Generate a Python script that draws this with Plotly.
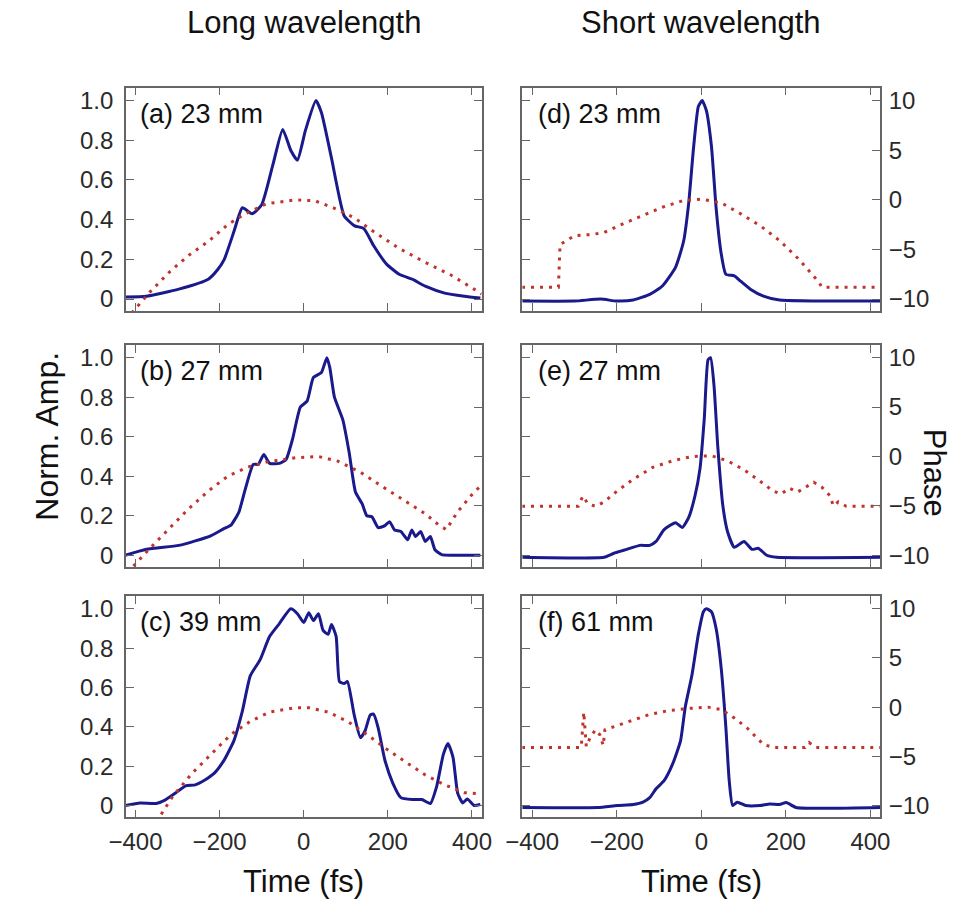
import plotly.graph_objects as go

# ---------------- data ----------------
# (a) Long wavelength, 23 mm
t_a = [-424, -374, -297, -227, -204, -189, -166, -146, -123, -100, -73, -50, -31, -15, 4, 29, 42, 66, 96, 120, 143, 166, 197, 227, 258, 289, 335, 382, 420]
amp_a = [0.01, 0.014, 0.05, 0.10, 0.15, 0.20, 0.34, 0.46, 0.43, 0.475, 0.68, 0.855, 0.75, 0.70, 0.85, 1.0, 0.94, 0.71, 0.42, 0.37, 0.355, 0.27, 0.176, 0.125, 0.10, 0.065, 0.03, 0.014, 0.005]
tp_a = [-409, -366, -320, -274, -227, -181, -143, -89, -19, 27, 73, 120, 166, 227, 289, 351, 405, 423]
ph_a = [-11.4, -9.3, -7.3, -5.6, -4.2, -2.5, -1.5, -0.4, 0.0, -0.1, -0.85, -1.8, -3.2, -4.9, -6.3, -7.6, -9.0, -9.5]

# (b) Long wavelength, 27 mm
t_b = [-424, -374, -297, -258, -220, -189, -173, -154, -139, -120, -108, -95, -81, -58, -42, -27, -8, 8, 23, 42, 55, 62, 73, 93, 108, 123, 139, 150, 162, 177, 193, 204, 216, 231, 247, 257, 266, 278, 289, 301, 312, 328, 351, 420]
amp_b = [0.0, 0.03, 0.05, 0.073, 0.10, 0.136, 0.153, 0.22, 0.335, 0.46, 0.46, 0.51, 0.465, 0.465, 0.485, 0.585, 0.75, 0.78, 0.90, 0.925, 1.0, 0.95, 0.80, 0.685, 0.52, 0.32, 0.26, 0.20, 0.195, 0.14, 0.15, 0.17, 0.128, 0.12, 0.078, 0.128, 0.095, 0.12, 0.07, 0.095, 0.028, 0.003, 0.0, 0.0]
tp_b = [-405, -366, -320, -274, -227, -181, -135, -89, -19, 35, 81, 135, 189, 243, 289, 320, 339, 366, 397, 420]
ph_b = [-11.1, -9.3, -7.3, -5.3, -3.5, -2.0, -1.1, -0.56, -0.13, 0.0, -0.47, -1.6, -3.1, -4.6, -5.8, -6.9, -7.4, -5.6, -4.0, -3.0]

# (c) Long wavelength, 39 mm
t_c = [-424, -389, -351, -328, -305, -281, -258, -235, -212, -189, -166, -146, -127, -104, -81, -58, -31, -15, 0, 12, 23, 35, 46, 58, 66, 77, 85, 96, 104, 120, 135, 146, 158, 166, 177, 193, 212, 231, 258, 281, 301, 316, 332, 343, 355, 366, 378, 389, 405, 420]
amp_c = [0.0, 0.013, 0.01, 0.03, 0.063, 0.10, 0.105, 0.13, 0.166, 0.232, 0.33, 0.48, 0.66, 0.74, 0.86, 0.925, 1.0, 0.975, 0.93, 0.98, 0.94, 0.975, 0.89, 0.87, 0.92, 0.86, 0.63, 0.62, 0.63, 0.46, 0.345, 0.38, 0.46, 0.465, 0.395, 0.23, 0.113, 0.04, 0.03, 0.03, 0.01, 0.096, 0.26, 0.315, 0.245, 0.063, 0.013, 0.033, 0.0, 0.005]
tp_c = [-339, -312, -266, -220, -173, -127, -81, -19, 12, 58, 104, 150, 197, 243, 289, 335, 382, 420]
ph_c = [-10.9, -9.1, -6.75, -4.76, -2.77, -1.44, -0.5, -0.05, -0.05, -0.5, -1.44, -2.77, -4.26, -5.6, -6.9, -7.9, -8.7, -8.8]

# (d) Short wavelength, 23 mm
t_d = [-424, -300, -238, -200, -161, -122, -92, -61, -42, -30, -18, -7, 2, 12, 24, 35, 47, 58, 78, 93, 116, 147, 185, 424]
amp_d = [-0.01, -0.01, 0.0, -0.01, -0.005, 0.024, 0.066, 0.16, 0.29, 0.48, 0.77, 0.97, 1.0, 0.95, 0.77, 0.46, 0.23, 0.125, 0.117, 0.09, 0.05, 0.015, -0.005, -0.01]
tp_d = [-424, -338, -334, -299, -261, -230, -184, -138, -92, -45, 1, 47, 93, 139, 185, 231, 278, 285, 424]
ph_d = [-8.8, -8.8, -4.5, -3.6, -3.5, -3.3, -2.4, -1.6, -0.75, -0.1, 0.07, -0.3, -1.4, -2.6, -4.1, -6.0, -8.3, -8.8, -8.8]

# (e) Short wavelength, 27 mm
t_e = [-424, -230, -207, -176, -145, -122, -107, -88, -61, -45, -30, -15, -3, 7, 16, 22, 30, 39, 51, 62, 78, 101, 120, 135, 155, 178, 424]
amp_e = [-0.01, -0.01, 0.01, 0.03, 0.05, 0.05, 0.07, 0.13, 0.165, 0.14, 0.19, 0.30, 0.44, 0.69, 0.99, 1.0, 0.86, 0.55, 0.25, 0.12, 0.04, 0.07, 0.03, 0.035, 0.0, -0.01, -0.01]
tp_e = [-424, -291, -280, -268, -249, -230, -199, -161, -115, -68, -22, 24, 62, 101, 139, 170, 189, 208, 228, 247, 266, 285, 305, 312, 324, 343, 424]
ph_e = [-5.05, -5.05, -4.0, -4.8, -5.05, -4.6, -3.5, -2.3, -1.1, -0.44, 0.0, 0.07, -0.44, -1.35, -2.5, -3.5, -3.8, -3.2, -3.6, -3.1, -2.6, -3.1, -4.0, -5.0, -4.6, -5.05, -5.05]

# (f) Short wavelength, 61 mm
t_f = [-424, -245, -199, -161, -138, -122, -107, -88, -68, -49, -38, -22, -7, 5, 12, 24, 35, 47, 58, 66, 74, 85, 105, 139, 162, 185, 201, 224, 424]
amp_f = [-0.01, -0.01, 0.0, 0.005, 0.017, 0.04, 0.085, 0.126, 0.21, 0.33, 0.5, 0.665, 0.87, 0.985, 1.0, 0.985, 0.9, 0.70, 0.40, 0.126, 0.0, 0.017, 0.0, 0.0, 0.008, 0.005, 0.015, -0.01, -0.01]
tp_f = [-424, -284, -278, -275, -272, -262, -250, -240, -232, -228, -215, -168, -122, -76, -30, 16, 47, 78, 108, 131, 147, 170, 245, 255, 270, 424]
ph_f = [-4.1, -4.1, -0.5, -2.5, -4.0, -3.0, -2.3, -2.8, -3.9, -2.3, -2.1, -1.4, -0.74, -0.34, -0.13, 0.0, -0.24, -1.1, -2.1, -3.1, -3.8, -4.1, -4.1, -3.6, -4.1, -4.1]

panel_labels = ["(a) 23 mm", "(b) 27 mm", "(c) 39 mm", "(d) 23 mm", "(e) 27 mm", "(f) 61 mm"]
column_titles = ["Long wavelength", "Short wavelength"]
x_ticks = [-400, -200, 0, 200, 400]
amp_ticks = [0, 0.2, 0.4, 0.6, 0.8, 1.0]
amp_ticktext = ["0", "0.2", "0.4", "0.6", "0.8", "1.0"]
phase_ticks = [-10, -5, 0, 5, 10]

# ---------------- layout ----------------
W, H = 965, 906
BLUE = "#1a1a8c"
RED = "#c0342c"
AXC = "#666666"
FONT = "Arial, 'Liberation Sans', sans-serif"

col_px = [(112, 478), (520, 888)]
row_px = [(87, 311), (345, 568), (597, 819)]
XR = [-423, 423]
AR = [-0.06, 1.065]
PR = [(AR[0] - 0.5) * 20, (AR[1] - 0.5) * 20]

data = [
    (t_a, amp_a, tp_a, ph_a), (t_b, amp_b, tp_b, ph_b), (t_c, amp_c, tp_c, ph_c),
    (t_d, amp_d, tp_d, ph_d), (t_e, amp_e, tp_e, ph_e), (t_f, amp_f, tp_f, ph_f),
]

fig = go.Figure()
layout = dict(
    width=W, height=H, margin=dict(l=0, r=0, t=0, b=0),
    paper_bgcolor="white", plot_bgcolor="white", showlegend=False,
    font=dict(family=FONT, color="#222222"),
)
annotations = []

for i, (t, amp, tp, ph) in enumerate(data):
    col = i // 3
    row = i % 3
    n = i + 1
    xa = "x" if n == 1 else f"x{n}"
    ya = "y" if n == 1 else f"y{n}"
    yp = f"y{n + 6}"
    x0, x1 = col_px[col]
    y0, y1 = row_px[row]
    xdom = [x0 / W, x1 / W]
    ydom = [1 - y1 / H, 1 - y0 / H]

    fig.add_trace(go.Scatter(x=tp, y=ph, xaxis=xa, yaxis=yp, mode="lines",
                             line=dict(color=RED, width=3, dash="3px,6px"), hoverinfo="skip"))
    fig.add_trace(go.Scatter(x=t, y=amp, xaxis=xa, yaxis=ya, mode="lines",
                             line=dict(color=BLUE, width=3, shape="spline", smoothing=0.5),
                             hoverinfo="skip"))

    common_ticks = dict(ticks="inside", ticklen=8, tickwidth=1.2, tickcolor=AXC,
                        showline=True, linecolor=AXC, linewidth=1.5,
                        showgrid=False, zeroline=False,
                        tickfont=dict(size=24, family=FONT, color="#2a2a2a"))

    layout["xaxis" if n == 1 else f"xaxis{n}"] = dict(
        domain=xdom, anchor=ya, range=XR, tickvals=x_ticks,
        showticklabels=(row == 2), mirror="ticks", ticklabelstandoff=2, **common_ticks)
    layout["yaxis" if n == 1 else f"yaxis{n}"] = dict(
        domain=ydom, anchor=xa, range=AR, tickvals=amp_ticks, ticktext=amp_ticktext,
        showticklabels=(col == 0), side="left", ticklabelstandoff=6, **common_ticks)
    layout[f"yaxis{n + 6}"] = dict(
        domain=ydom, anchor=xa, overlaying=ya, range=PR, tickvals=phase_ticks,
        showticklabels=(col == 1), side="right", ticklabelstandoff=2, **common_ticks)

    annotations.append(dict(
        text=panel_labels[i], xref=f"{xa} domain", yref=f"{ya} domain",
        x=0.035 if col == 0 else 0.038, y=1 - 26 / (y1 - y0),
        xanchor="left", yanchor="middle", showarrow=False,
        font=dict(size=27, family=FONT, color="#111111")))

# column titles
for col, title in enumerate(column_titles):
    cx = (col_px[col][0] + col_px[col][1]) / 2 / W
    annotations.append(dict(text=title, xref="paper", yref="paper", x=cx, y=1 - 22 / H,
                            xanchor="center", yanchor="middle", showarrow=False,
                            font=dict(size=31, family=FONT, color="#111111")))
    annotations.append(dict(text="Time (fs)", xref="paper", yref="paper", x=cx, y=1 - 883 / H,
                            xanchor="center", yanchor="middle", showarrow=False,
                            font=dict(size=31, family=FONT, color="#111111")))

annotations.append(dict(text="Norm. Amp.", xref="paper", yref="paper", x=30 / W, y=1 - 437 / H,
                        xanchor="center", yanchor="middle", textangle=-90, showarrow=False,
                        font=dict(size=32, family=FONT, color="#111111")))
annotations.append(dict(text="Phase", xref="paper", yref="paper", x=944 / W, y=1 - 473 / H,
                        xanchor="center", yanchor="middle", textangle=90, showarrow=False,
                        font=dict(size=31, family=FONT, color="#111111")))

layout["annotations"] = annotations
fig.update_layout(**layout)
fig.write_html("out.html")
